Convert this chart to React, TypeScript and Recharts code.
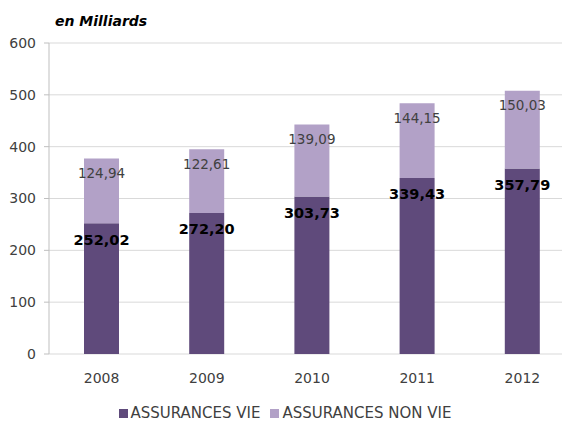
import React from "react";
import { BarChart, Bar, XAxis, YAxis, CartesianGrid, LabelList, Legend } from "recharts";

const years = ["2008", "2009", "2010", "2011", "2012"];
const assurancesVie = [252.02, 272.2, 303.73, 339.43, 357.79];
const assurancesNonVie = [124.94, 122.61, 139.09, 144.15, 150.03];
const yTicks = [0, 100, 200, 300, 400, 500, 600];
const boundaryTicks = [0, 1, 2, 3, 4, 5];

const DARK = "#5F4A7B";
const LIGHT = "#B2A1C7";
const FONT = "'DejaVu Sans', sans-serif";
const TEXT = "#404040";

const data = years.map((y, i) => ({ year: y, vie: assurancesVie[i], nonVie: assurancesNonVie[i] }));

const fmt = (v: any) => Number(v).toFixed(2).replace(".", ",");

const series = [
  { name: "ASSURANCES VIE", color: DARK },
  { name: "ASSURANCES NON VIE", color: LIGHT },
];

const renderLegend = () => (
  <div style={{ display: "flex", justifyContent: "center", alignItems: "center", fontFamily: FONT, fontSize: 15, color: TEXT, lineHeight: "16px" }}>
    {series.map((s) => (
      <span key={s.name} style={{ display: "flex", alignItems: "center", marginRight: 5, marginLeft: 5 }}>
        <span style={{ width: 9, height: 9, background: s.color, marginRight: 3, display: "inline-block" }} />
        {s.name}
      </span>
    ))}
  </div>
);

export default function App() {
  return (
    <div style={{ position: "absolute", left: 0, top: 0, width: 562, height: 423, overflow: "hidden", background: "#fff" }}>
      <div style={{ position: "absolute", left: 55, top: 14, fontFamily: FONT, fontSize: 14, lineHeight: "14px", fontWeight: "bold", fontStyle: "italic", color: "#000", zIndex: 2 }}>
        en Milliards
      </div>
      <BarChart width={575} height={423} data={data} margin={{ top: 43, right: 0, bottom: 0, left: 0 }}>
        <CartesianGrid vertical={false} stroke="#D9D9D9" xAxisId="c" />
        <XAxis
          xAxisId="b"
          type="number"
          domain={[0, 5]}
          ticks={boundaryTicks}
          allowDataOverflow
          height={0}
          tickSize={6}
          stroke="#BFBFBF"
          tickLine={{ stroke: "#BFBFBF" }}
          axisLine={{ stroke: "#BFBFBF" }}
          tickFormatter={() => ""}
        />
        <XAxis
          xAxisId="c"
          dataKey="year"
          height={69}
          axisLine={false}
          tickLine={false}
          tickSize={0}
          tickMargin={19}
          tick={{ fill: TEXT, fontSize: 14, fontFamily: FONT }}
        />
        <YAxis
          width={49}
          domain={[0, 600]}
          ticks={yTicks}
          interval={0}
          tickSize={5}
          tickMargin={8}
          axisLine={{ stroke: "#BFBFBF" }}
          tickLine={{ stroke: "#BFBFBF" }}
          tick={{ fill: TEXT, fontSize: 14, fontFamily: FONT }}
        />
        <Legend
          layout="horizontal"
          verticalAlign="middle"
          align="center"
          content={renderLegend}
          wrapperStyle={{ top: 405, left: 0, width: 570 }}
        />
        <Bar xAxisId="c" dataKey="vie" name="ASSURANCES VIE" stackId="a" fill={DARK} barSize={35} isAnimationActive={false}>
          <LabelList dataKey="vie" position="insideTop" offset={11} formatter={fmt} fill="#000" fontSize={14.5} fontWeight="bold" fontFamily={FONT} />
        </Bar>
        <Bar xAxisId="c" dataKey="nonVie" name="ASSURANCES NON VIE" stackId="a" fill={LIGHT} barSize={35} isAnimationActive={false}>
          <LabelList dataKey="nonVie" position="insideTop" offset={10} formatter={fmt} fill="#404040" fontSize={13.5} fontWeight="normal" fontFamily={FONT} />
        </Bar>
      </BarChart>
    </div>
  );
}
